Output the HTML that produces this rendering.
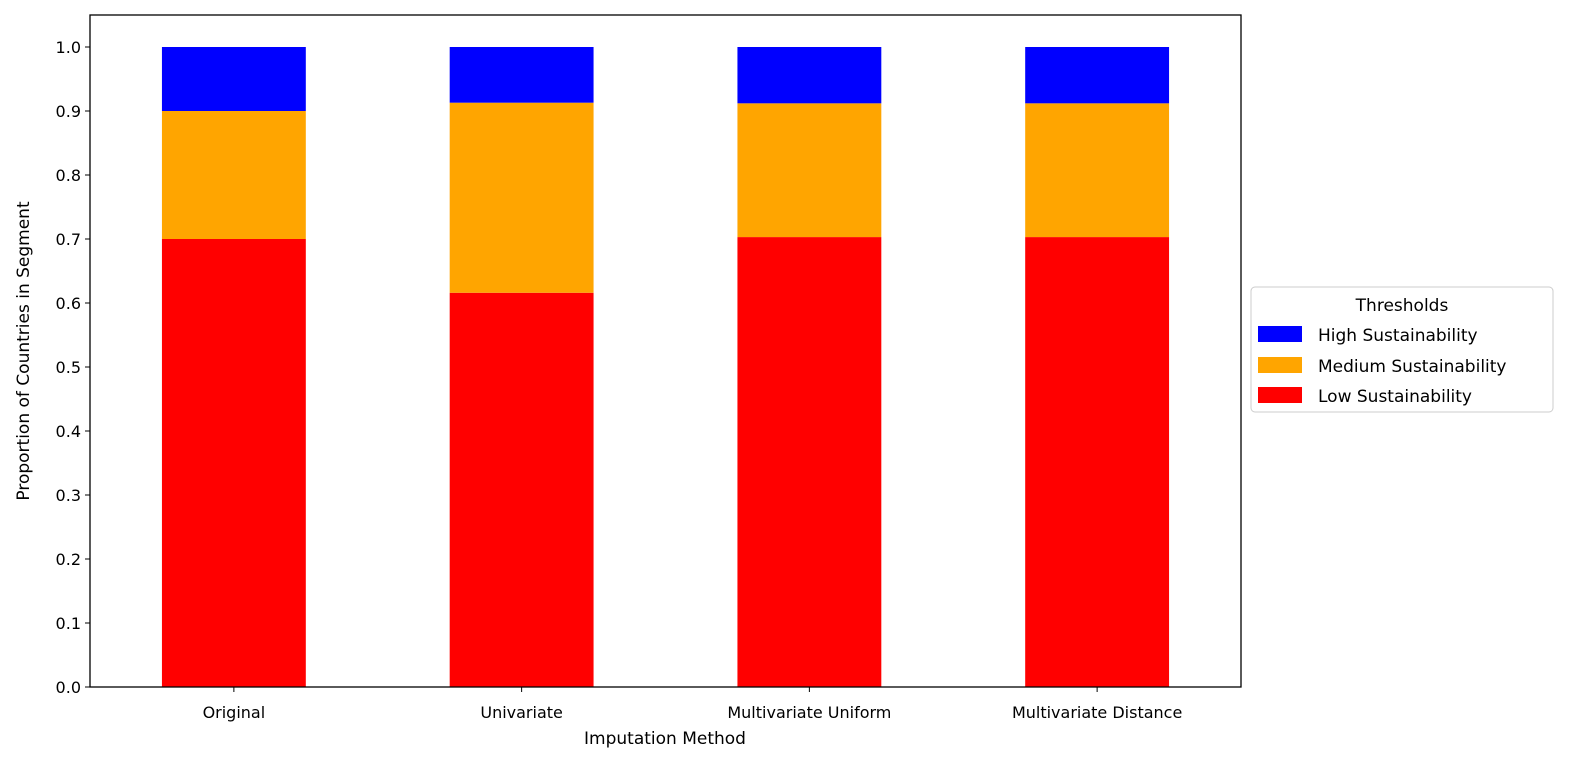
<!DOCTYPE html>
<html><head><meta charset="utf-8"><style>
html,body{margin:0;padding:0;background:#fff;overflow:hidden;width:1584px;height:772px;}
svg{display:block;}
svg text{font-family:"DejaVu Sans","Liberation Sans",sans-serif;fill:#000;}
</style></head><body>
<svg id="chart" width="1584" height="772" xmlns="http://www.w3.org/2000/svg">
<g id="bars"></g>
<g id="axes"></g>
<rect x="90" y="15" width="1151" height="672" fill="none" stroke="#000" stroke-width="1.3"/>
<text x="665" y="744" font-size="17" text-anchor="middle">Imputation Method</text>
<text transform="translate(29,351) rotate(-90)" font-size="17" text-anchor="middle">Proportion of Countries in Segment</text>
<g>
<rect x="1251" y="287" width="302" height="125" rx="4" fill="#fff" stroke="#ccc"/>
<text x="1402" y="311" font-size="17" text-anchor="middle">Thresholds</text>
<g><rect x="1258" y="326" width="44" height="16" fill="#0000ff"/><text x="1318" y="341" font-size="17">High Sustainability</text></g>
<g><rect x="1258" y="357" width="44" height="16" fill="#ffa500"/><text x="1318" y="372" font-size="17">Medium Sustainability</text></g>
<g><rect x="1258" y="387" width="44" height="16" fill="#ff0000"/><text x="1318" y="402" font-size="17">Low Sustainability</text></g>
</g>
</svg>
<script>
const categories = ["Original","Univariate","Multivariate Uniform","Multivariate Distance"];
const lowValues = [0.700, 0.616, 0.703, 0.703];
const mediumValues = [0.200, 0.297, 0.209, 0.209];
const highValues = [0.100, 0.087, 0.088, 0.088];
const yTicks = [0,0.1,0.2,0.3,0.4,0.5,0.6,0.7,0.8,0.9,1.0];
const NS="http://www.w3.org/2000/svg";
const X0=90,X1=1241,Y0=687,Y1=15;
const xs=i=>X0+(i+0.5)*(X1-X0)/4;
const yScale=v=>Y0-v*(Y0-Y1)/1.05;
const bw=0.5*(X1-X0)/4;
const bars=document.getElementById('bars');
const series=[["low",lowValues,"#ff0000"],["medium",mediumValues,"#ffa500"],["high",highValues,"#0000ff"]];
categories.forEach((c,i)=>{
  let base=0;
  series.forEach(([n,vals,col])=>{
    const r=document.createElementNS(NS,'rect');
    r.setAttribute('x',xs(i)-bw/2);
    r.setAttribute('width',bw);
    r.setAttribute('y',yScale(base+vals[i]));
    r.setAttribute('height',yScale(base)-yScale(base+vals[i]));
    r.setAttribute('fill',col);
    
    
    bars.appendChild(r);
    base+=vals[i];
  });
});
const axes=document.getElementById('axes');
yTicks.forEach(t=>{
  const y=yScale(t);
  const l=document.createElementNS(NS,'line');
  l.setAttribute('x1',X0-5);l.setAttribute('x2',X0);l.setAttribute('y1',y);l.setAttribute('y2',y);l.setAttribute('stroke','#000');
  
  
  axes.appendChild(l);
  const tx=document.createElementNS(NS,'text');
  tx.setAttribute('x',X0-9);tx.setAttribute('y',y+6);tx.setAttribute('font-size','16');tx.setAttribute('text-anchor','end');
  tx.textContent=t.toFixed(1);
  
  
  axes.appendChild(tx);
});
categories.forEach((c,i)=>{
  const x=xs(i);
  const l=document.createElementNS(NS,'line');
  l.setAttribute('x1',x);l.setAttribute('x2',x);l.setAttribute('y1',Y0);l.setAttribute('y2',Y0+5);l.setAttribute('stroke','#000');
  
  
  axes.appendChild(l);
  const tx=document.createElementNS(NS,'text');
  tx.setAttribute('x',x);tx.setAttribute('y',Y0+31);tx.setAttribute('font-size','16');tx.setAttribute('text-anchor','middle');
  tx.textContent=c;
  
  
  axes.appendChild(tx);
});
</script>
</body></html>
